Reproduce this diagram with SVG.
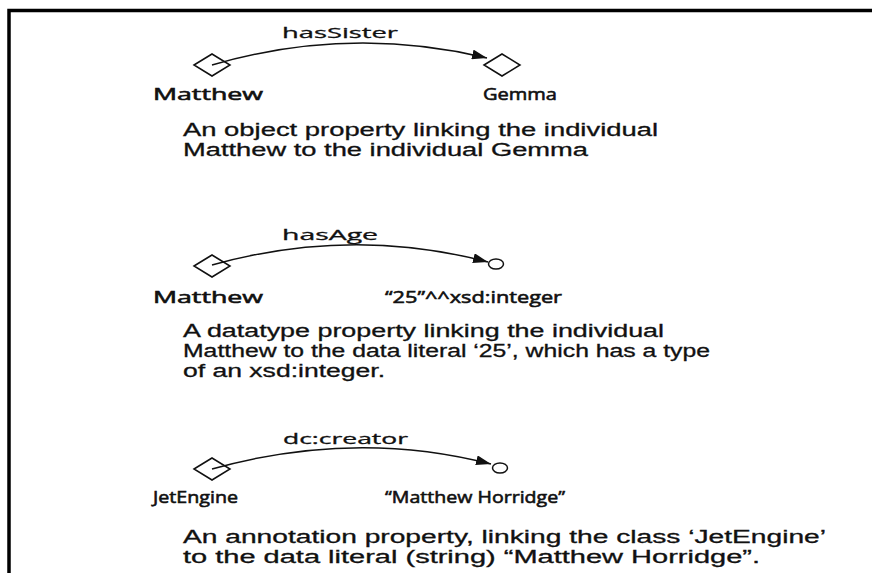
<svg xmlns="http://www.w3.org/2000/svg" width="872" height="573" viewBox="0 0 872 573">
<defs>
<style>
.node{fill:none;stroke:#111;stroke-width:1.5}
.edge{fill:none;stroke:#111;stroke-width:1.5;marker-end:url(#arr)}
.lbl{font-family:"Open Sans","Noto Sans","Liberation Sans",sans-serif;font-size:17px;font-weight:400;fill:#111;stroke:#111;stroke-width:0.6}
.elbl{font-family:"Open Sans","Noto Sans","Liberation Sans",sans-serif;font-size:14px;font-weight:400;fill:#111;stroke:#111;stroke-width:0.3}
.desc{font-family:"Liberation Sans",Arial,sans-serif;font-size:18px;font-weight:400;fill:#111;stroke:#111;stroke-width:0.3}
</style>
<marker id="arr" markerWidth="16" markerHeight="10" refX="15" refY="5" orient="auto" markerUnits="userSpaceOnUse">
<path d="M0,0 L15,5 L0,10 Z" fill="#111"/>
</marker>
</defs>
<rect width="872" height="573" fill="#fff"/>
<path d="M9,573 V10.5 H872" fill="none" stroke="#000" stroke-width="3.5"/>

<g id="matthew1">
<polygon class="node" points="194,65 212,54 230,65 212,76"/>
<text class="lbl" x="153" y="100" textLength="110" lengthAdjust="spacingAndGlyphs">Matthew</text>
</g>
<g id="gemma">
<polygon class="node" points="484,65 502,54 520,65 502,76"/>
<text class="lbl" x="483" y="100" textLength="74" lengthAdjust="spacingAndGlyphs">Gemma</text>
</g>
<text class="desc" x="183" y="136" textLength="475" lengthAdjust="spacingAndGlyphs">An object property linking the individual</text>
<text class="desc" x="183" y="156" textLength="405" lengthAdjust="spacingAndGlyphs">Matthew to the individual Gemma</text>

<g id="matthew2">
<polygon class="node" points="194,266 212,255 230,266 212,277"/>
<text class="lbl" x="153" y="303" textLength="110" lengthAdjust="spacingAndGlyphs">Matthew</text>
</g>
<g id="lit25">
<ellipse class="node" cx="496" cy="264" rx="7.5" ry="5"/>
<text class="lbl" x="385" y="303" textLength="177" lengthAdjust="spacingAndGlyphs">“25”^^xsd:integer</text>
</g>
<text class="desc" x="183" y="337" textLength="481" lengthAdjust="spacingAndGlyphs">A datatype property linking the individual</text>
<text class="desc" x="183" y="357" textLength="527" lengthAdjust="spacingAndGlyphs">Matthew to the data literal ‘25’, which has a type</text>
<text class="desc" x="183" y="377" textLength="202" lengthAdjust="spacingAndGlyphs">of an xsd:integer.</text>

<g id="jetengine">
<polygon class="node" points="194,469 212,458 230,469 212,480"/>
<text class="lbl" x="153" y="503" textLength="85" lengthAdjust="spacingAndGlyphs">JetEngine</text>
</g>
<g id="horridge">
<ellipse class="node" cx="500" cy="468" rx="7.5" ry="5"/>
<text class="lbl" x="385" y="503" textLength="180" lengthAdjust="spacingAndGlyphs">“Matthew Horridge”</text>
</g>
<text class="desc" x="183" y="543" textLength="643" lengthAdjust="spacingAndGlyphs">An annotation property, linking the class ‘JetEngine’</text>
<text class="desc" x="183" y="563" textLength="577" lengthAdjust="spacingAndGlyphs">to the data literal (string) “Matthew Horridge”.</text>

<g id="connectors">
<path class="edge" d="M212,65 Q350,25 487,58"/>
<text class="elbl" x="282" y="38" textLength="116" lengthAdjust="spacingAndGlyphs">hasSister</text>
<path class="edge" d="M212,265 Q352,226 488,262"/>
<text class="elbl" x="282" y="240" textLength="96" lengthAdjust="spacingAndGlyphs">hasAge</text>
<path class="edge" d="M212,469 Q355,429 491,464"/>
<text class="elbl" x="283" y="444" textLength="125" lengthAdjust="spacingAndGlyphs">dc:creator</text>
</g>
</svg>
